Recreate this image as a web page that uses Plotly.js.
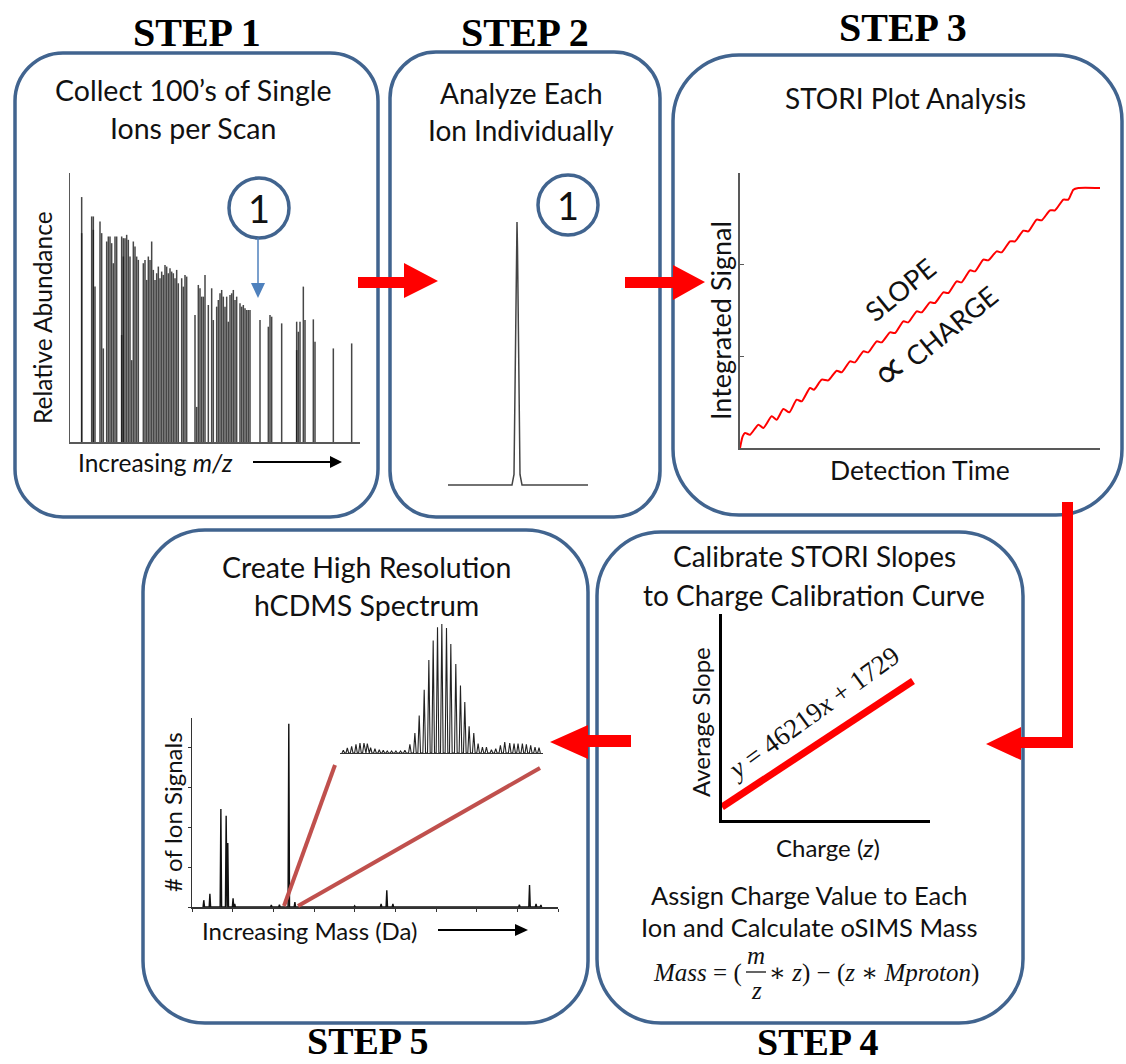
<!DOCTYPE html>
<html><head><meta charset="utf-8">
<script src="https://cdn.plot.ly/plotly-3.0.1.min.js"></script>
<style>html,body{margin:0;padding:0;background:#fff}#chart{width:1126px;height:1064px}</style>
</head><body><div id="chart"></div>
<script>
// ---------------- DATA (arbitrary units) ----------------
// Step 1: single-ion mass spectrum
const mz = [65,65,95,100,100,105,120,125,130,140,145,150,155,160,165,170,185,185,190,190,195,200,205,210,215,220,225,230,235,250,255,260,265,270,275,280,285,290,295,300,305,310,315,320,325,330,335,340,345,350,355,365,370,375,380,405,410,415,420,425,430,435,445,455,460,470,475,480,485,490,495,500,505,510,515,520,525,530,540,545,550,555,560,565,570,600,625,630,635,665,710,710,715,720,730,735,760,765,820,875];
const abundance = [733,625,675,675,635,465,660,625,280,600,615,615,595,535,615,615,615,320,610,555,610,620,605,555,245,600,585,555,545,535,545,485,555,545,600,515,485,505,525,490,510,500,530,525,505,520,510,505,490,515,475,490,465,500,495,380,105,470,460,435,435,500,410,460,365,405,425,445,455,435,405,435,360,440,445,455,425,435,415,405,410,400,395,395,395,365,345,380,375,355,360,275,330,360,465,365,367,300,280,295];
// Step 2: one ion's peak
const ionX = [0,64,66,67.5,68.5,69,69.5,70.5,72,74,140];
const ionY = [0,0,0.04,0.45,0.9,1.0,0.9,0.45,0.04,0,0];
// Step 3: STORI plot (integrated signal vs detection time)
const detTime = [0,8,15,30,55,70,95,110,130,148,170,185,210,222,245,265,290,305,330,345,370,385,410,425,450,465,490,505,530,545,570,585,610,625,650,665,690,705,730,745,770,785,810,825,850,865,890,905,930,945,970,985,1000,1015,1080];
const intSignal = [0,35,45,40,70,60,95,85,117,107,145,140,180,175,205,203,232,227,260,257,290,287,320,317,347,345,380,377,410,407,437,435,467,465,500,497,533,530,565,563,590,587,620,620,652,650,685,683,713,713,745,745,775,780,780];
const storiTicks = [275,550];
// Step 4: calibration curve  y = 46219x + 1729
const charge = [0,1];
const avgSlope = [1729,47948];
// Step 5: hCDMS spectrum
const massPos = [2.9,4.4,7.1,8.4,8.8,10.1,10.5,19.5,21.5,23.8,25.3,26.5,40,46.5,47.9,49.4,80.5,83,84.6,85.8];
const ionCount = [0.17,0.33,2.45,2.28,1.6,0.22,0.08,0.05,0.06,4.58,0.12,0.08,0.03,0.08,0.42,0.08,0.06,0.55,0.08,0.05];
// Step 5 inset: zoomed charge-state distribution
const insetPos = [40,52,65,78,90,102,112,122,135,148,160,172,185,198,212,225,240,255,268,283,297,310,323,336,350,363,378,392,405,418,432,445,458,470,485,498,512,525,540,553,565,578,590,603,616,628];
const insetCount = [8,15,20,26,30,30,28,16,13,10,8,6,6,6,6,8,26,60,113,190,280,338,378,388,376,328,268,203,153,80,60,28,18,18,10,13,23,33,30,28,28,28,26,23,18,16];

// ---------------- LAYOUT HELPERS ----------------
const W = 1126, H = 1064;
const fx = p => p / W;
const fy = p => 1 - p / H;
function dom(r0, r1, a, pa, b, pb) { const s = (pb - pa) / (b - a); return [pa + (r0 - a) * s, pa + (r1 - a) * s]; }
function xd(p0, p1) { return [fx(Math.min(p0, p1)), fx(Math.max(p0, p1))]; }
function yd(p0, p1) { return [fy(Math.max(p0, p1)), fy(Math.min(p0, p1))]; }
function rr(x0, y0, x1, y1, r) {
  const k = 0.5523 * r;
  const P = (x, y) => fx(x) + ',' + fy(y);
  return 'M' + P(x0 + r, y0) + ' L' + P(x1 - r, y0) +
    ' C' + P(x1 - r + k, y0) + ' ' + P(x1, y0 + r - k) + ' ' + P(x1, y0 + r) +
    ' L' + P(x1, y1 - r) +
    ' C' + P(x1, y1 - r + k) + ' ' + P(x1 - r + k, y1) + ' ' + P(x1 - r, y1) +
    ' L' + P(x0 + r, y1) +
    ' C' + P(x0 + r - k, y1) + ' ' + P(x0, y1 - r + k) + ' ' + P(x0, y1 - r) +
    ' L' + P(x0, y0 + r) +
    ' C' + P(x0, y0 + r - k) + ' ' + P(x0 + r - k, y0) + ' ' + P(x0 + r, y0) + ' Z';
}
function poly(pts) { return 'M' + pts.map(p => fx(p[0]) + ',' + fy(p[1])).join(' L') + ' Z'; }
function sticks(xs, ys) { const X = [], Y = []; xs.forEach((x, i) => { X.push(x, x, null); Y.push(0, ys[i], null); }); return [X, Y]; }
function spikes(xs, ys, hw) { const X = [], Y = []; xs.forEach((x, i) => { X.push(x - hw, x, x + hw); Y.push(0, ys[i], 0); }); return [X, Y]; }

function ax(domain, range, extra) {
  return Object.assign({ domain, range, showgrid: false, zeroline: false, showticklabels: false,
    ticks: '', showline: false, fixedrange: true }, extra || {});
}

const BLUE = '#41648f', RED = '#ff0000', FONT = 'Lato, "Open Sans", sans-serif', SERIF = '"Liberation Serif", "DejaVu Serif", serif';

// ---------------- TRACES ----------------
const s1 = sticks(mz, abundance);
const s5 = spikes(massPos, ionCount, 0.18);
const s6 = spikes(insetPos, insetCount, 4);
const traces = [
  { x: s1[0], y: s1[1], xaxis: 'x', yaxis: 'y', mode: 'lines', line: { color: 'rgba(25,25,25,0.8)', width: 1.5 }, hoverinfo: 'skip' },
  { x: ionX, y: ionY, xaxis: 'x2', yaxis: 'y2', mode: 'lines', line: { color: '#444', width: 1.5 }, hoverinfo: 'skip' },
  { x: detTime, y: intSignal, xaxis: 'x3', yaxis: 'y3', mode: 'lines', line: { color: RED, width: 2, shape: 'spline', smoothing: 0.6 }, hoverinfo: 'skip' },
  { x: charge, y: avgSlope, xaxis: 'x4', yaxis: 'y4', mode: 'lines', line: { color: RED, width: 7 }, hoverinfo: 'skip' },
  { x: s5[0], y: s5[1], xaxis: 'x5', yaxis: 'y5', mode: 'lines', line: { color: '#111', width: 1.4 }, hoverinfo: 'skip' },
  { x: s6[0], y: s6[1], xaxis: 'x6', yaxis: 'y6', mode: 'lines', line: { color: '#222', width: 1.1 }, hoverinfo: 'skip' }
];

// ---------------- AXES ----------------
const layout = {
  width: W, height: H, margin: { l: 0, r: 0, t: 0, b: 0 }, showlegend: false,
  paper_bgcolor: '#fff', plot_bgcolor: 'rgba(0,0,0,0)',
  xaxis: ax(xd(70, 360), [30, 900], { anchor: 'y', showline: true, linecolor: '#595959', linewidth: 1.5 }),
  yaxis: ax(yd(442, 173), [0, 805], { anchor: 'x', showline: true, linecolor: '#595959', linewidth: 1.5 }),
  xaxis2: ax(xd(...dom(-5, 145, 0, 448, 140, 588)), [-5, 145], { anchor: 'y2' }),
  yaxis2: ax(yd(...dom(-0.05, 1.05, 0, 485, 1, 222)), [-0.05, 1.05], { anchor: 'x2' }),
  xaxis3: ax(xd(740, 1100), [0, 1080], { anchor: 'y3', showline: true, linecolor: '#595959', linewidth: 2 }),
  yaxis3: ax(yd(448, 173), [0, 825], { anchor: 'x3', showline: true, linecolor: '#595959', linewidth: 2,
    ticks: 'inside', tickvals: storiTicks, ticklen: 4, tickwidth: 1.5, tickcolor: '#595959' }),
  xaxis4: ax(xd(722, 930), [0, 1.089], { anchor: 'y4', showline: true, linecolor: '#000', linewidth: 3 }),
  yaxis4: ax(yd(820, 614), [-3039, 72525], { anchor: 'x4', showline: true, linecolor: '#000', linewidth: 3 }),
  xaxis5: ax(xd(192, 558), [0, 90], { anchor: 'y5', showline: true, linecolor: '#333', linewidth: 1.5,
    ticks: 'outside', tick0: 0, dtick: 10, ticklen: 3, tickwidth: 1, tickcolor: '#333' }),
  yaxis5: ax(yd(907, 718), [0, 4.725], { anchor: 'x5', showline: true, linecolor: '#333', linewidth: 1.5,
    ticks: 'outside', tick0: 0, dtick: 1, ticklen: 3, tickwidth: 1, tickcolor: '#333' }),
  xaxis6: ax(xd(340, 543), [30, 640], { anchor: 'y6', showline: true, linecolor: '#333', linewidth: 1.2 }),
  yaxis6: ax(yd(753, 620), [0, 400], { anchor: 'x6' }),
  shapes: [], annotations: []
};

// ---------------- SHAPES ----------------
const S = layout.shapes;
const boxLine = { color: BLUE, width: 3.5 };
[[15, 53, 378, 517, 48], [390, 52, 660, 517, 46], [673, 55, 1122, 515, 66], [143, 530, 588, 1023, 62], [597, 532, 1023, 1023, 64]]
  .forEach(b => S.push({ type: 'path', xref: 'paper', yref: 'paper', path: rr(...b), line: boxLine, fillcolor: 'rgba(0,0,0,0)', layer: 'below' }));
const redFill = (pts) => ({ type: 'path', xref: 'paper', yref: 'paper', path: poly(pts), fillcolor: RED, line: { width: 0 } });
// arrow 1 -> 2
S.push(redFill([[358, 277], [404, 277], [404, 263], [438, 281], [404, 298], [404, 288], [358, 288]]));
// arrow 2 -> 3
S.push(redFill([[625, 277], [673, 277], [673, 265], [705, 282], [673, 300], [673, 288], [625, 288]]));
// arrow 3 -> 4 (L-shaped)
S.push(redFill([[1062, 502], [1073, 502], [1073, 748], [1021, 748], [1021, 760], [986, 744], [1021, 727], [1021, 737], [1062, 737]]));
// arrow 4 -> 5
S.push(redFill([[631, 735], [631, 747], [588, 747], [588, 759], [550, 742], [588, 725], [588, 735]]));
// circles "1"
S.push({ type: 'circle', xref: 'paper', yref: 'paper', x0: fx(229), x1: fx(289), y0: fy(238), y1: fy(178), line: { color: BLUE, width: 3.5 } });
S.push({ type: 'circle', xref: 'paper', yref: 'paper', x0: fx(538), x1: fx(598), y0: fy(235), y1: fy(175), line: { color: BLUE, width: 3.5 } });
// blue pointer arrow in step 1
S.push({ type: 'line', xref: 'paper', yref: 'paper', x0: fx(258), x1: fx(258), y0: fy(238), y1: fy(285), line: { color: '#4f81bd', width: 1.5 } });
S.push({ type: 'path', xref: 'paper', yref: 'paper', path: poly([[251, 283], [265, 283], [258, 298]]), fillcolor: '#4f81bd', line: { width: 0 } });
// black axis-direction arrows
S.push({ type: 'line', xref: 'paper', yref: 'paper', x0: fx(253), x1: fx(333), y0: fy(462), y1: fy(462), line: { color: '#000', width: 2 } });
S.push({ type: 'path', xref: 'paper', yref: 'paper', path: poly([[330, 456], [342, 462], [330, 468]]), fillcolor: '#000', line: { width: 0 } });
S.push({ type: 'line', xref: 'paper', yref: 'paper', x0: fx(438), x1: fx(518), y0: fy(930), y1: fy(930), line: { color: '#000', width: 2 } });
S.push({ type: 'path', xref: 'paper', yref: 'paper', path: poly([[515, 924], [528, 930], [515, 936]]), fillcolor: '#000', line: { width: 0 } });
// zoom lines in step 5
S.push({ type: 'line', xref: 'paper', yref: 'paper', x0: fx(284), y0: fy(906), x1: fx(335), y1: fy(765), line: { color: '#c0504d', width: 4 } });
S.push({ type: 'line', xref: 'paper', yref: 'paper', x0: fx(298), y0: fy(906), x1: fx(540), y1: fy(768), line: { color: '#c0504d', width: 4 } });
// fraction bar in mass formula
S.push({ type: 'line', xref: 'paper', yref: 'paper', x0: fx(746), x1: fx(766), y0: fy(972), y1: fy(972), line: { color: '#111', width: 1.3 } });

// ---------------- TEXT ----------------
const A = layout.annotations;
function T(text, x, y, size, opt) {
  A.push(Object.assign({ text, x: fx(x), y: fy(y), xref: 'paper', yref: 'paper', showarrow: false,
    xanchor: 'center', yanchor: 'middle', font: { family: FONT, size, color: '#111' } }, opt || {}));
}
const stepFont = s => ({ font: { family: SERIF, size: s, color: '#000', weight: 'bold' } });
T('<b>STEP 1</b>', 197, 32, 40, stepFont(40));
T('<b>STEP 2</b>', 525, 32, 40, stepFont(40));
T('<b>STEP 3</b>', 903, 28, 40, stepFont(40));
T('<b>STEP 5</b>', 367, 1041, 38, stepFont(38));
T('<b>STEP 4</b>', 817, 1042, 38, stepFont(38));

T('Collect 100’s of Single', 193, 90, 28.5);
T('Ions per Scan', 193, 128, 28.5);
T('Relative Abundance', 42, 318, 24.5, { textangle: -90 });
T('Increasing <i>m/z</i>', 155, 462, 24.5);
T('1', 259, 208, 38);

T('Analyze Each', 521, 93, 28);
T('Ion Individually', 521, 130, 28);
T('1', 568, 205, 38);

T('STORI Plot Analysis', 905, 98, 28);
T('Integrated Signal', 720, 321, 27, { textangle: -90 });
T('Detection Time', 920, 470, 26.5);
T('SLOPE', 900, 290, 27, { textangle: -39 });
T('<span style="font-size:44px">∝</span> CHARGE', 932, 333, 27, { textangle: -39 });

T('Calibrate STORI Slopes', 814, 556, 28);
T('to Charge Calibration Curve', 814, 595, 28);
T('Average Slope', 700, 722, 24, { textangle: -90 });
T('<i>y</i> = 46219<i>x</i> + 1729', 813, 713, 27, { textangle: -36, font: { family: SERIF, size: 27, color: '#111' } });
T('Charge (<i>z</i>)', 828, 847, 24);
T('Assign Charge Value to Each', 810, 895, 25.5);
T('Ion and Calculate oSIMS Mass', 810, 927, 25.5);
T('<i>Mass</i> = (', 744, 973, 25, { xanchor: 'right', font: { family: SERIF, size: 25, color: '#111' } });
T('<i>m</i>', 756, 955, 25, { font: { family: SERIF, size: 25, color: '#111' } });
T('<i>z</i>', 756, 990, 25, { font: { family: SERIF, size: 25, color: '#111' } });
T('∗ <i>z</i>) − (<i>z</i> ∗ <i>Mproton</i>)', 767, 973, 25, { xanchor: 'left', font: { family: SERIF, size: 25, color: '#111' } });

T('Create High Resolution', 366, 567, 28.5);
T('hCDMS Spectrum', 366, 605, 28.5);
T('# of Ion Signals', 172, 812, 24, { textangle: -90 });
T('Increasing Mass (Da)', 309, 930, 24);

Plotly.newPlot('chart', traces, layout, { staticPlot: true, displayModeBar: false });
</script></body></html>
